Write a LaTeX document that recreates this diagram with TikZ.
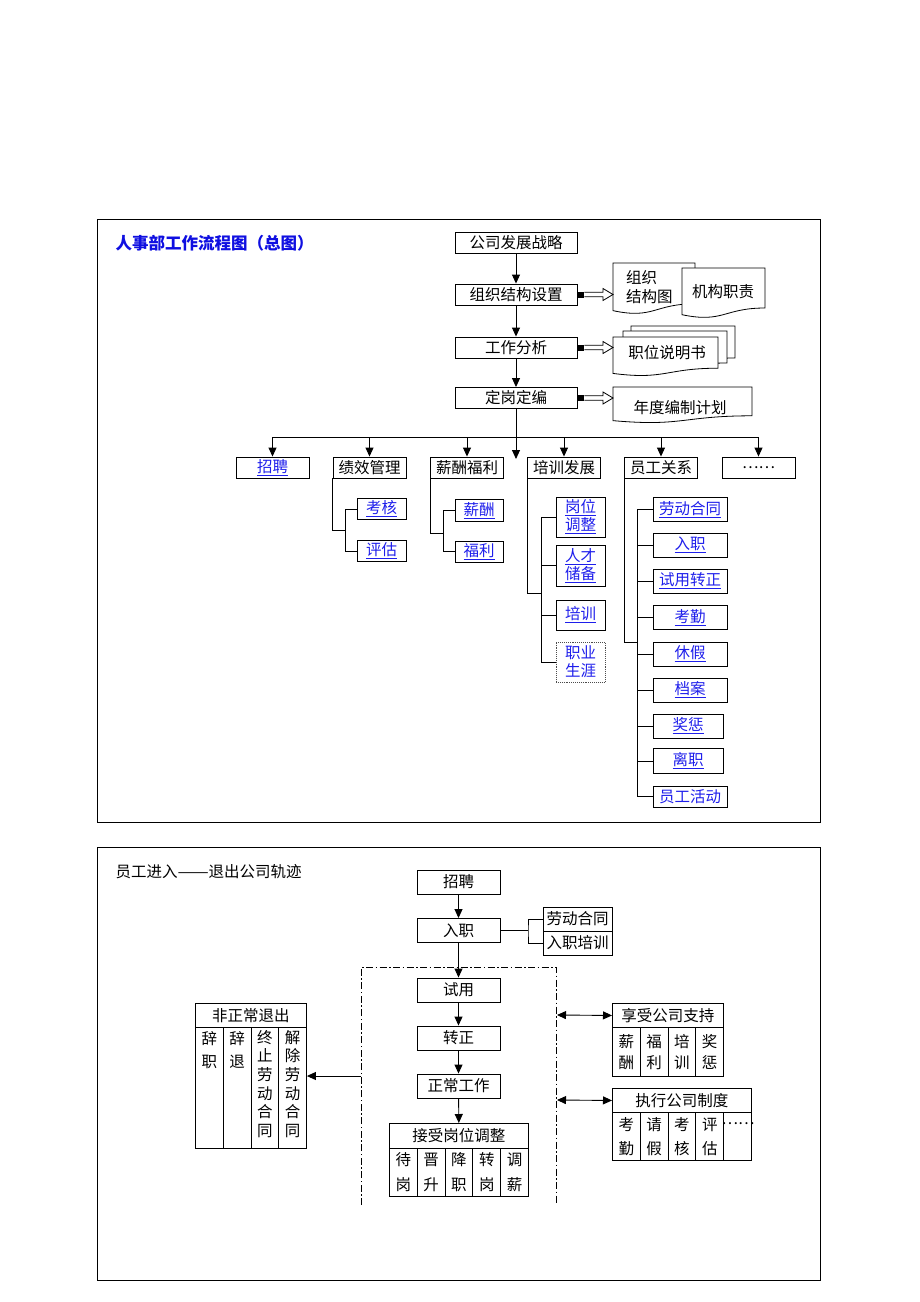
\documentclass[tikz,border=0pt]{standalone}
\usepackage{fontspec}
\setmainfont{Noto Sans CJK SC}
\usetikzlibrary{arrows.meta,calc}

\definecolor{linkblue}{RGB}{30,30,235}
\definecolor{titleblue}{RGB}{15,15,225}

\newcommand{\lnk}[1]{\underline{#1}}
% document shape: x1, y1, x2, height
\newcommand{\docbox}[4]{%
  \filldraw[docline] (#1,#2) -- (#3,#2) -- (#3,{#2+0.80*#4})
    .. controls ({(#1+#3)/2},{#2+0.80*#4}) and ({(#1+#3)/2},{#2+1.107*#4}) .. (#1,{#2+0.934*#4}) -- cycle;}
% open block arrow from a box to a document
\newcommand{\blockarrow}[2]{%
  \fill ($(#1.east)+(1,-3)$) rectangle ++(6,6);
  \draw[hollowline] ($(#1.east)+(7,-2.2)$) -- ($(#2)+(-10,-2.2)$) -- ($(#2)+(-10,-6)$) -- (#2)
    -- ($(#2)+(-10,6)$) -- ($(#2)+(-10,2.2)$) -- ($(#1.east)+(7,2.2)$);}

\tikzset{
  box/.style={draw, line width=0.9pt, inner sep=1pt, minimum height=21pt,
    font=\fontsize{15.5}{18}\selectfont},
  linkbox/.style={box, text=linkblue},
  cell/.style={draw, line width=0.9pt, inner sep=0pt, anchor=north west, align=center},
  celltext/.style={inner sep=0pt, anchor=north, align=center},
  conn/.style={line width=0.9pt},
  arr/.style={conn, -{Triangle[length=9pt,width=8pt]}},
  twoway/.style={conn, {Triangle[length=9pt,width=8pt]}-{Triangle[length=9pt,width=8pt]}},
  hollowline/.style={line width=0.8pt, line join=miter},
  docline/.style={draw, line width=0.8pt, fill=white},
  dashdot/.style={line width=0.8pt, dash pattern=on 7pt off 2.5pt on 1.5pt off 2.5pt},
  frame/.style={line width=0.8pt},
}

\begin{document}
\begin{tikzpicture}[x=1pt,y=-1pt]
\useasboundingbox (0,0) rectangle (920,1302);

% ---------- upper chart ----------
\draw[frame] (97,219) rectangle (820,822);
\node[anchor=west, text=titleblue, font=\fontsize{16.5}{18}\selectfont\bfseries] (ttl) at (112,243) {人事部工作流程图（总图）};

\node[box, minimum width=122pt] (strat) at (516,242.5) {公司发展战略};
\node[box, minimum width=122pt] (orgset) at (516,294.5) {组织结构设置};
\node[box, minimum width=122pt] (jobana) at (516,347.5) {工作分析};
\node[box, minimum width=122pt] (quota) at (516,398) {定岗定编};

\draw[arr] (strat) -- (orgset);
\draw[arr] (orgset) -- (jobana);
\draw[arr] (jobana) -- (quota);

% documents
\docbox{613}{263}{695}{51}
\node[anchor=west, align=left, inner sep=0pt, font=\fontsize{15.5}{19}\selectfont] (orgchart) at (626,287) {组织\\结构图};
\docbox{682}{268}{765}{50}
\node[font=\fontsize{15.5}{18}\selectfont] (duty) at (723,292) {机构职责};
\docbox{631}{326}{735}{40}
\docbox{623}{331}{727}{40}
\docbox{613}{337}{718}{39}
\node[font=\fontsize{15.5}{18}\selectfont] (jobdesc) at (667,353) {职位说明书};
\docbox{613}{387}{752}{36}
\node[font=\fontsize{15.5}{18}\selectfont] (plan) at (680,408) {年度编制计划};

\coordinate (docA) at (613,294.5);
\coordinate (docB) at (613,347.5);
\coordinate (docC) at (613,398);
\blockarrow{orgset}{docA}
\blockarrow{jobana}{docB}
\blockarrow{quota}{docC}

% departments
\node[linkbox, minimum width=73pt] (zp) at (272.5,467.5) {\lnk{招聘}};
\node[box, minimum width=73pt] (jx) at (369.5,467.5) {绩效管理};
\node[box, minimum width=73pt] (xc) at (467,467.5) {薪酬福利};
\node[box, minimum width=73pt] (px) at (564,467.5) {培训发展};
\node[box, minimum width=73pt] (yg) at (661,467.5) {员工关系};
\node[box, minimum width=73pt] (more) at (758.5,467.5) {……};

\coordinate (busmid) at (516,437);
\coordinate (midend) at (516,459);
\draw[arr] (quota) -- (midend);
\draw[conn] (zp.north |- busmid) -- (more.north |- busmid);
\draw[arr] (zp.north |- busmid) -- (zp);
\draw[arr] (jx.north |- busmid) -- (jx);
\draw[arr] (xc.north |- busmid) -- (xc);
\draw[arr] (px.north |- busmid) -- (px);
\draw[arr] (yg.north |- busmid) -- (yg);
\draw[arr] (more.north |- busmid) -- (more);

% 绩效管理
\node[linkbox, minimum width=49pt] (kh) at (381.5,509) {\lnk{考核}};
\node[linkbox, minimum width=49pt] (pg) at (381.5,551) {\lnk{评估}};
\coordinate (jxj) at (346,530);
\draw[conn] (jx.south west) |- (jxj);
\draw[conn] (kh.west) -- ++(-11,0) |- (pg.west);

% 薪酬福利
\node[linkbox, minimum width=48pt, minimum height=22pt] (xch) at (479,510.5) {\lnk{薪酬}};
\node[linkbox, minimum width=48pt] (fl) at (479,551.5) {\lnk{福利}};
\coordinate (xcj) at (444,533);
\draw[conn] (xc.south west) |- (xcj);
\draw[conn] (xch.west) -- ++(-11,0) |- (fl.west);

% 培训发展
\node[linkbox, minimum width=49pt, minimum height=40pt, align=center, font=\fontsize{15.5}{18}\selectfont] (gw) at (580.5,517) {\lnk{岗位}\\\lnk{调整}};
\node[linkbox, minimum width=49pt, minimum height=41pt, align=center, font=\fontsize{15.5}{18}\selectfont] (rc) at (580.5,565.5) {\lnk{人才}\\\lnk{储备}};
\node[linkbox, minimum width=49pt, minimum height=30pt] (pxx) at (580.5,615) {\lnk{培训}};
\node[box, draw=black!70, densely dotted, text=linkblue, minimum width=49pt, minimum height=40pt, align=center, font=\fontsize{15.5}{18}\selectfont] (zy) at (580.5,662) {职业\\生涯};
\coordinate (pxj) at (542,593);
\draw[conn] (px.south west) |- (pxj);
\draw[conn] (gw.west) -- ++(-14,0) |- (zy.west);
\draw[conn] (rc.west) -- ++(-14,0);
\draw[conn] (pxx.west) -- ++(-14,0);

% 员工关系
\node[linkbox, minimum width=74pt, minimum height=24pt] (ldht) at (690,509.5) {\lnk{劳动合同}};
\node[linkbox, minimum width=74pt, minimum height=24pt] (rzy) at (690,545) {\lnk{入职}};
\node[linkbox, minimum width=74pt, minimum height=24pt] (sz) at (690,581) {\lnk{试用转正}};
\node[linkbox, minimum width=74pt, minimum height=24pt] (kq) at (690,617.5) {\lnk{考勤}};
\node[linkbox, minimum width=74pt, minimum height=24pt] (xj) at (690,654) {\lnk{休假}};
\node[linkbox, minimum width=74pt, minimum height=24pt] (da) at (690,690) {\lnk{档案}};
\node[linkbox, minimum width=70pt, minimum height=24pt] (jc) at (688,726) {\lnk{奖惩}};
\node[linkbox, minimum width=70pt, minimum height=25pt] (lz) at (688,761) {\lnk{离职}};
\node[linkbox, minimum width=74pt, minimum height=21pt] (hd) at (690,796.5) {员工活动};
\coordinate (ygj) at (638,642);
\draw[conn] (yg.south west) |- (ygj);
\draw[conn] (ldht.west) -- ++(-15,0) |- (hd.west);
\foreach \n in {rzy,sz,kq,xj,da,jc,lz}
  \draw[conn] (\n.west) -- ++(-15,0);

% ---------- lower chart ----------
\draw[frame] (97,847) rectangle (820,1280);
\node[anchor=west, font=\fontsize{15.5}{18}\selectfont] (ttl2) at (112,872) {员工进入\scalebox{1.2}[1]{——}退出公司轨迹};

\node[box, minimum width=83pt, minimum height=24pt] (hire) at (458.5,882) {招聘};
\node[box, minimum width=83pt, minimum height=24pt] (entry) at (458.5,930.5) {入职};
\node[box, minimum width=83pt, minimum height=24pt] (trial) at (458.5,990) {试用};
\node[box, minimum width=83pt, minimum height=24pt] (formal) at (458.5,1038) {转正};
\node[box, minimum width=83pt, minimum height=24pt] (work) at (458.5,1086) {正常工作};
\node[box, minimum width=69pt, minimum height=24pt] (contract) at (577.5,919) {劳动合同};
\node[box, minimum width=69pt, minimum height=24pt] (induct) at (577.5,943) {入职培训};

\draw[arr] (hire) -- (entry);
\draw[arr] (entry) -- (trial);
\draw[arr] (trial) -- (formal);
\draw[arr] (formal) -- (work);
\coordinate (entj) at (528,930.5);
\draw[conn] (entry.east) -- (entj);
\draw[conn] (contract.west) -| (entj) |- (induct.west);

% dash-dot zone
\coordinate (fr1) at (361,1205);
\coordinate (fr2) at (361,967);
\coordinate (fr3) at (556,967);
\coordinate (fr4) at (556,1205);
\draw[dashdot] (fr1) -- (fr2) -- (fr3) -- (fr4);

% 接受岗位调整
\node[box, cell, minimum width=139pt, minimum height=25pt] (adj) at (389,1123) {接受岗位调整};
\draw[arr] (work) -- (adj);
\foreach \t [count=\i] in {{待\\岗},{晋\\升},{降\\职},{转\\岗},{调\\薪}}
  \node[cell, minimum width=27.8pt, minimum height=48pt, font=\fontsize{15.5}{25}\selectfont] (adj\i) at ({389+(\i-1)*27.8},1148) {\t};

% 非正常退出
\node[box, cell, minimum width=111pt, minimum height=24pt] (quit) at (195,1003) {非正常退出};
\foreach \i in {1,...,4}
  \node[cell, minimum width=27.75pt, minimum height=121pt] (quit\i) at ({195+(\i-1)*27.75},1027) {};
\node[celltext, font=\fontsize{15.5}{23}\selectfont] (qt1) at ($(quit1.north)+(0,4)$) {辞\\职};
\node[celltext, font=\fontsize{15.5}{23}\selectfont] (qt2) at ($(quit2.north)+(0,4)$) {辞\\退};
\node[celltext, font=\fontsize{15.5}{18.6}\selectfont] (qt3) at ($(quit3.north)+(0,3)$) {终\\止\\劳\\动\\合\\同};
\node[celltext, font=\fontsize{15.5}{18.6}\selectfont] (qt4) at ($(quit4.north)+(0,3)$) {解\\除\\劳\\动\\合\\同};
\coordinate (exitsrc) at (361,1076);
\draw[arr] (exitsrc) -- (exitsrc -| quit.east);

% 享受公司支持
\node[box, cell, minimum width=111pt, minimum height=24pt] (support) at (612,1003) {享受公司支持};
\foreach \t [count=\i] in {{薪\\酬},{福\\利},{培\\训},{奖\\惩}}
  \node[cell, minimum width=27.75pt, minimum height=49pt, font=\fontsize{15.5}{21}\selectfont] (sup\i) at ({612+(\i-1)*27.75},1027) {\t};
\coordinate (supsrc) at (557,1015);
\draw[twoway] (supsrc) -- (support.west);

% 执行公司制度
\node[box, cell, minimum width=139pt, minimum height=24pt] (rules) at (612,1088) {执行公司制度};
\foreach \t [count=\i] in {{考\\勤},{请\\假},{考\\核},{评\\估},{}}
  \node[cell, minimum width=27.8pt, minimum height=48pt, font=\fontsize{15.5}{24}\selectfont] (rul\i) at ({612+(\i-1)*27.8},1112) {\t};
\node[inner sep=0pt, font=\fontsize{15.5}{18}\selectfont] (dots) at (738,1124) {……};
\coordinate (rulsrc) at (557,1100);
\draw[twoway] (rulsrc) -- (rules.west);

\end{tikzpicture}
\end{document}
